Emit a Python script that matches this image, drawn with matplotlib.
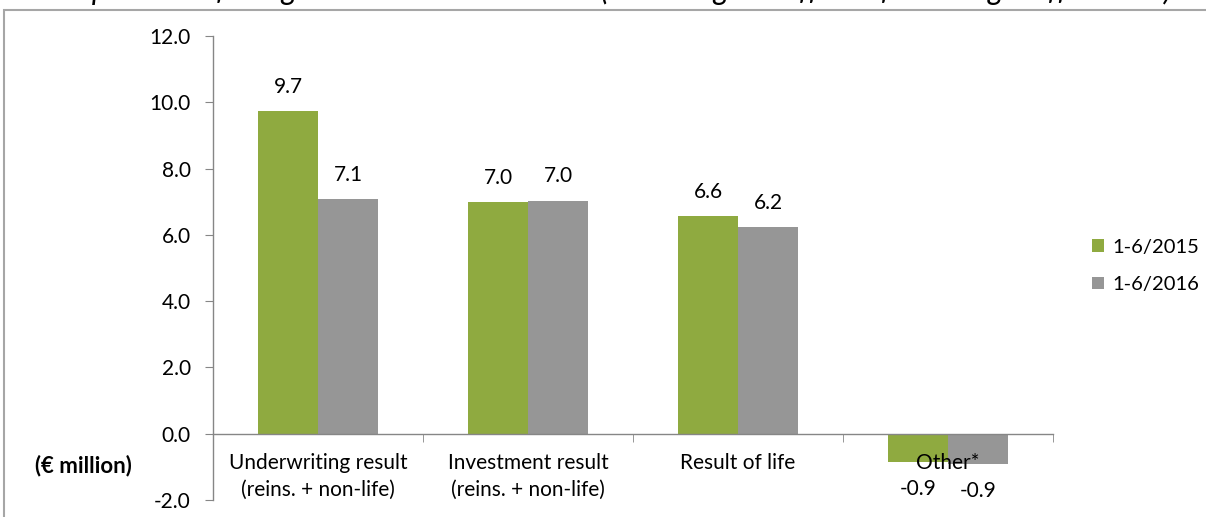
import matplotlib
matplotlib.use('Agg')
import matplotlib.pyplot as plt
import matplotlib.patches as patches
import numpy as np

plt.rcParams['font.family'] = ['Lato', 'DejaVu Sans']

categories = ['Underwriting result\n(reins. + non-life)',
              'Investment result\n(reins. + non-life)',
              'Result of life',
              'Other*']
series_names = ['1-6/2015', '1-6/2016']
values_2015 = [9.73, 6.98, 6.57, -0.86]
values_2016 = [7.08, 7.03, 6.23, -0.92]
y_ticks = [-2.0, 0.0, 2.0, 4.0, 6.0, 8.0, 10.0, 12.0]
title = 'Composition of the gross consolidated result (excluding the effect of exchange differences)'

green = '#8FAA40'
grey = '#969696'
axis_col = '#868686'
fs = 15

fig = plt.figure(figsize=(12.06, 5.17), dpi=100)
ax = fig.add_axes([213 / 1206, 1 - 500 / 517, 840 / 1206, 464 / 517])

x = np.arange(len(categories))
w = 60 / 210
b1 = ax.bar(x - w / 2, values_2015, w, color=green, label=series_names[0])
b2 = ax.bar(x + w / 2, values_2016, w, color=grey, label=series_names[1])

# value labels above / below the bars
for bars, vals in [(b1, values_2015), (b2, values_2016)]:
    for rect, v in zip(bars, vals):
        cx = rect.get_x() + rect.get_width() / 2
        off = 17.5 if v >= 0 else -19.5
        ax.annotate(f'{v:.1f}', (cx, v), xytext=(0, off), textcoords='offset points',
                    ha='center', va='center', fontsize=fs)

ax.set_xlim(-0.5, len(categories) - 0.5)
ax.set_ylim(-2, 12)
ax.set_yticks(y_ticks)
ax.set_yticklabels([f'{t:.1f}' for t in y_ticks], fontsize=fs)

ax.spines['bottom'].set_position(('data', 0))
ax.spines['top'].set_visible(False)
ax.spines['right'].set_visible(False)
for s in ['left', 'bottom']:
    ax.spines[s].set_color(axis_col)
    ax.spines[s].set_linewidth(1.0)

ax.set_xticks(x)
ax.set_xticklabels(categories, fontsize=fs, linespacing=1.45)
ax.set_xticks(np.arange(0.5, len(categories), 1.0), minor=True)
ax.tick_params(axis='x', which='major', length=0, pad=14)
ax.tick_params(axis='x', which='minor', length=6, direction='out', color=axis_col)
ax.tick_params(axis='y', length=6, direction='out', color=axis_col, pad=10)

fig.text(35 / 1206, 1 - 466 / 517, '(€ million)', fontsize=16, fontweight='bold',
         ha='left', va='center')

fig.legend(handles=[b1, b2], labels=series_names, loc='center left',
           bbox_to_anchor=(1092 / 1206, 1 - 266 / 517), frameon=False, fontsize=14.5,
           borderpad=0, borderaxespad=0,
           handlelength=0.6, handleheight=0.6, handletextpad=0.4, labelspacing=1.0)

# outer chart frame
frame = patches.Rectangle((4 / 1206, -0.2), 1.2, 1.2 - 10 / 517,
                          transform=fig.transFigure, fill=False,
                          edgecolor='#A6A6A6', linewidth=1.5)
fig.patches.append(frame)

# title, mostly cut off by the top edge
fig.text(33 / 1206, 1.0, title, fontsize=22, fontstyle='italic',
         ha='left', va='baseline')

plt.savefig('out.png', dpi=100)
